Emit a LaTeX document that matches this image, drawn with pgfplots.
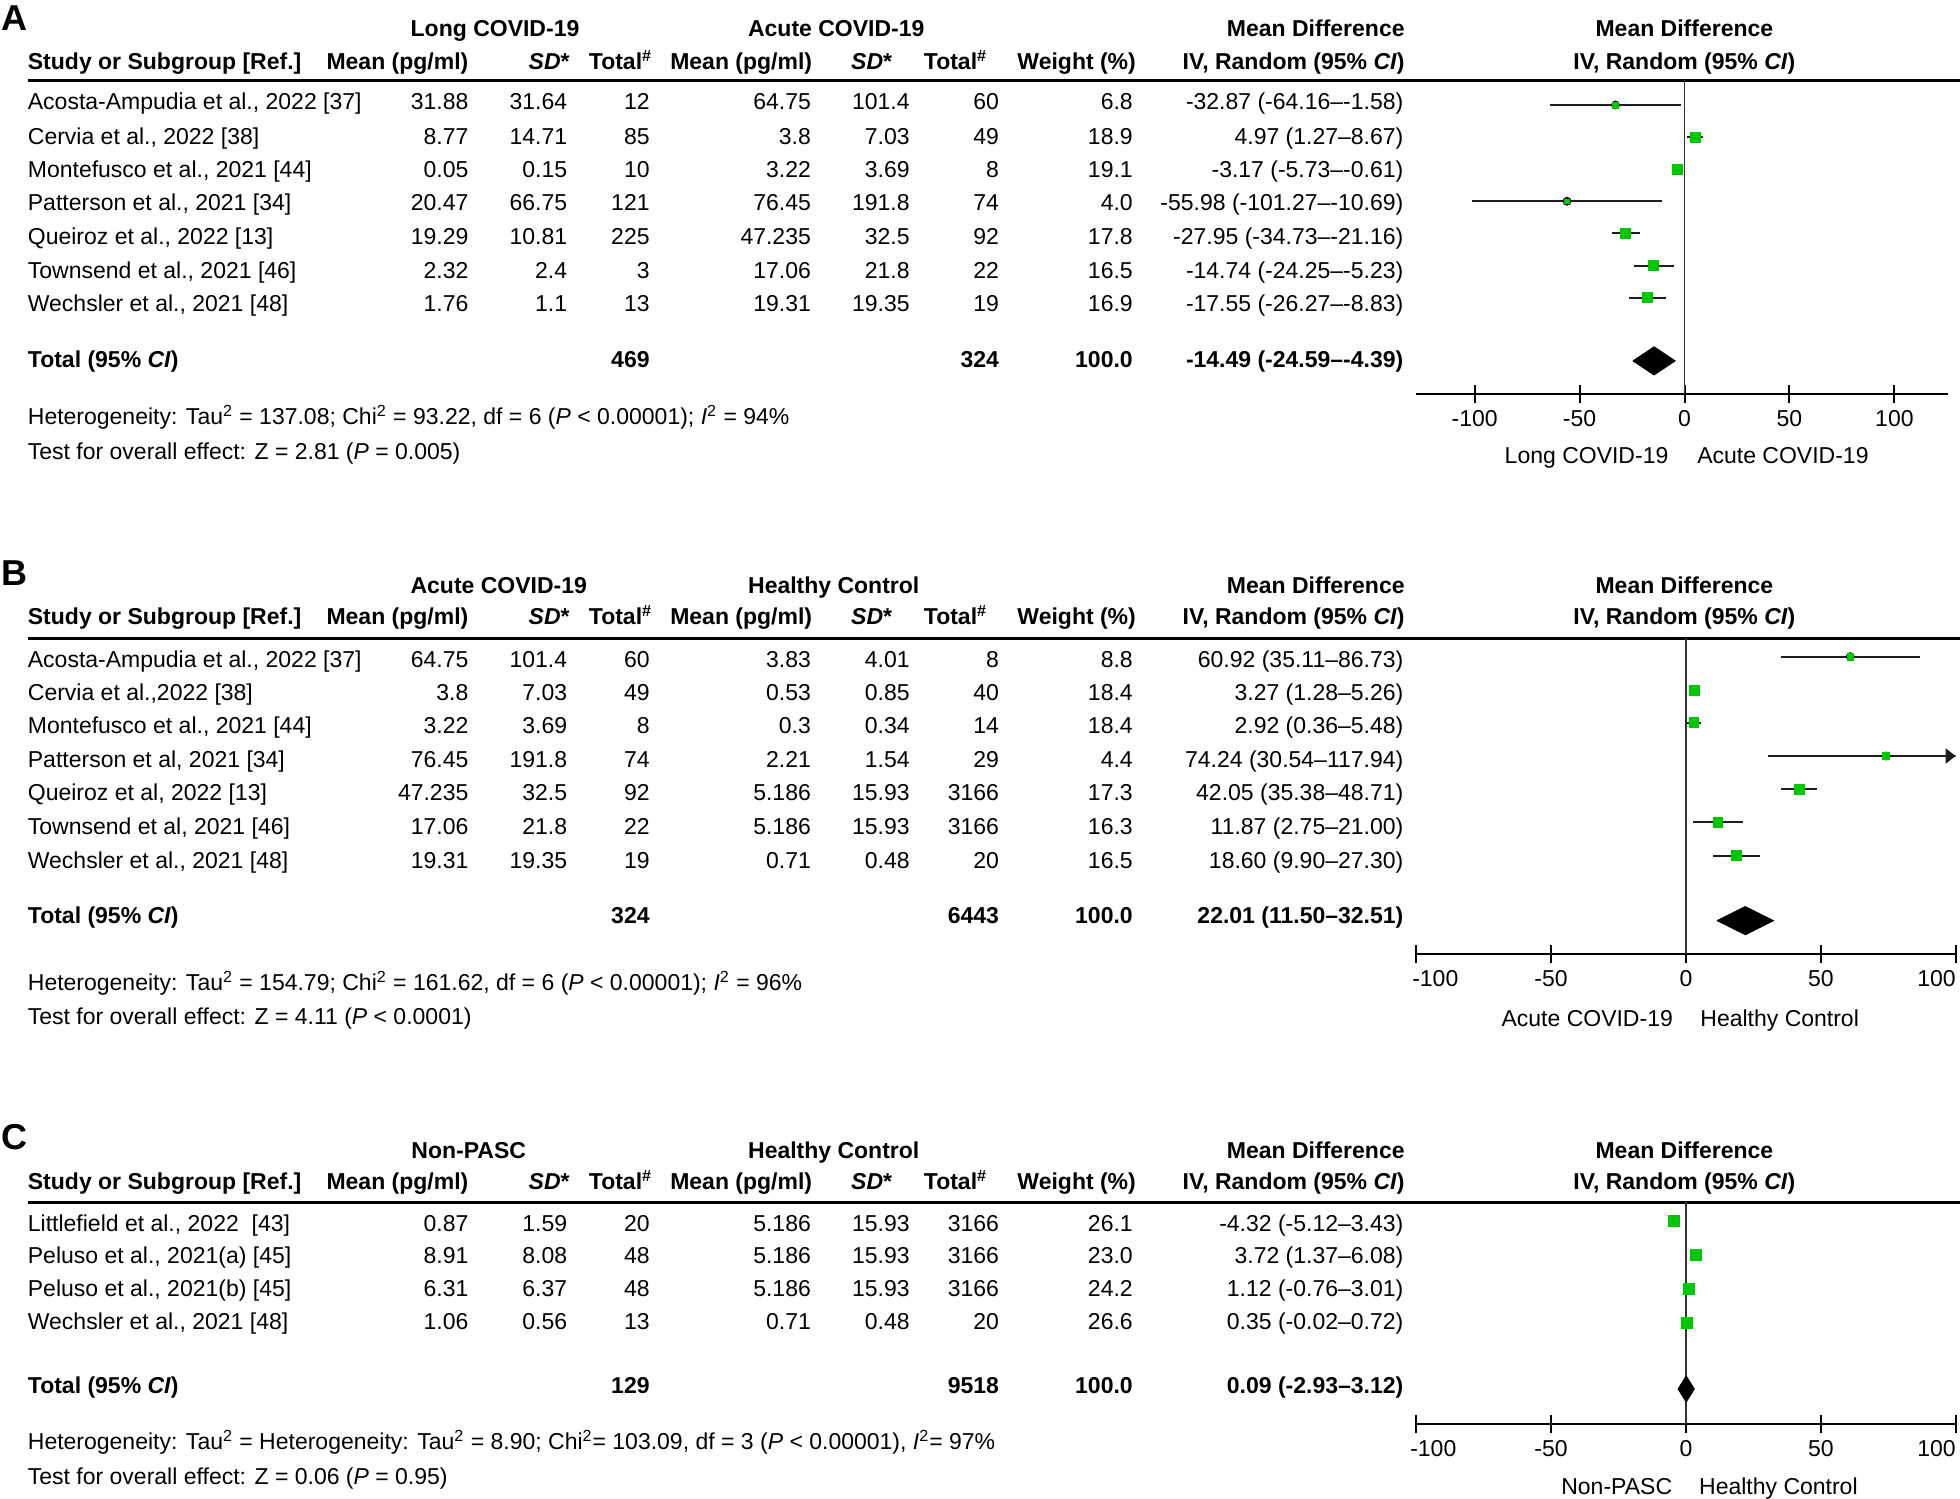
\documentclass[border=0pt]{standalone}
\usepackage{fontspec}
\setmainfont{Liberation Sans}
\usepackage{pgfplots}
\usepackage{pgfplotstable}
\pgfplotsset{compat=1.18}
\usetikzlibrary{arrows.meta}
\definecolor{mdgreen}{RGB}{0,200,0}
\definecolor{ciline}{RGB}{30,30,30}
\newcommand\fs{\fontsize{11.5}{13.8}\selectfont}

% ---------- data: md, lower CI, upper CI, row position, marker size ----------
\pgfplotstableread{
md lo hi y ms
-32.87 -64.16 -1.58 -84.0 1.55
4.97 1.27 8.67 -109.9 2.5
-3.17 -5.73 -0.61 -135.2 2.5
-55.98 -101.27 -10.69 -161.0 1.15
-27.95 -34.73 -21.16 -186.7 2.5
-14.74 -24.25 -5.23 -212.5 2.5
-17.55 -26.27 -8.83 -238.1 2.5
}\dataA
\pgfplotstableread{
x y
-24.59 -288.7
-14.49 -277.4
-4.39 -288.7
-14.49 -300.0
-24.59 -288.7
}\diamA
\pgfplotstableread{
md lo hi y ms
60.92 35.11 86.73 -525.3 1.65
3.27 1.28 5.26 -552.0 2.45
2.92 0.36 5.48 -578.1 2.45
74.24 30.54 117.94 -604.8 1.65
42.05 35.38 48.71 -631.5 2.5
11.87 2.75 21.00 -657.9 2.45
18.60 9.90 27.30 -684.5 2.45
}\dataB
\pgfplotstableread{
x y
11.50 -736.5
22.01 -725.2
32.51 -736.5
22.01 -747.8
11.50 -736.5
}\diamB
\pgfplotstableread{
md lo hi y ms
-4.32 -5.12 -3.43 -976.8 2.75
3.72 1.37 6.08 -1004.0 2.7
1.12 -0.76 3.01 -1031.2 2.7
0.35 -0.02 0.72 -1058.7 2.75
}\dataC
\pgfplotstableread{
x y
-2.93 -1111.2
0.09 -1100.7
3.12 -1111.2
0.09 -1121.7
-2.93 -1111.2
}\diamC

\pgfplotsset{forest/.style={
  scale only axis, anchor=south west,
  axis x line=bottom, axis y line=none,
  x axis line style={-, line width=1pt},
  xtick={-100,-50,0,50,100},
  major tick length=9pt, tick align=center,
  tick style={line width=1pt, black},
  xticklabel style={font=\fs},
  clip mode=individual,
}}
\pgfplotsset{
  ciplot/.style={only marks, mark=none, forget plot,
    error bars/.cd, x dir=both, x explicit, error mark=none,
    error bar style={draw=ciline, line width=0.95pt}},
  sqplot/.style={scatter, only marks, mark=square*, point meta=explicit,
    scatter/use mapped color={draw=mdgreen, fill=mdgreen},
    visualization depends on={\thisrow{ms}\as\msz},
    scatter/@pre marker code/.append style={/tikz/mark size=\msz pt}},
  zeroline/.style={line width=0.75pt, color=black!80, forget plot},
  diamond/.style={fill=black, draw=black, line width=0.4pt, forget plot},
}

\begin{document}
\begin{tikzpicture}
\useasboundingbox (0,0) rectangle (980pt,-749.375pt);

\begin{scope}[x=0.625pt, y=-0.625pt, every node/.style={inner sep=0pt, font=\fs}]
% ================= Panel A =================
\node[anchor=base west, font=\fontsize{18}{20}\selectfont\bfseries] at (1,24) {A};
\node[anchor=base] at (396,22.7+6.6) {\bfseries Long COVID-19};
\node[anchor=base] at (669,22.7+6.6) {\bfseries Acute COVID-19};
\node[anchor=base east] at (1124,22.7+6.6) {\bfseries Mean Difference};
\node[anchor=base] at (1347.5,22.7+6.6) {\bfseries Mean Difference};
\node[anchor=base west] at (22,49.3+6.6) {\bfseries Study or Subgroup [Ref.]};
\node[anchor=base east] at (375,49.3+6.6) {\bfseries Mean (pg/ml)};
\node[anchor=base east] at (456,49.3+6.6) {\bfseries\itshape SD\upshape*};
\node[anchor=base east] at (522,49.3+6.6) {\bfseries Total\textsuperscript{\#}};
\node[anchor=base east] at (650,49.3+6.6) {\bfseries Mean (pg/ml)};
\node[anchor=base east] at (714,49.3+6.6) {\bfseries\itshape SD\upshape*};
\node[anchor=base east] at (790,49.3+6.6) {\bfseries Total\textsuperscript{\#}};
\node[anchor=base east] at (909,49.3+6.6) {\bfseries Weight (\%)};
\node[anchor=base east] at (1124,49.3+6.6) {\bfseries IV, Random (95\% \textit{CI})};
\node[anchor=base] at (1347.5,49.3+6.6) {\bfseries IV, Random (95\% \textit{CI})};
\draw[line width=1.5pt] (22,64) -- (1568,64);
\foreach \yy/\nm/\ma/\sa/\ta/\mb/\sb/\tb/\wt/\md in {
 81.3/{Acosta-Ampudia et al., 2022 [37]}/31.88/31.64/12/64.75/101.4/60/6.8/{-32.87 (-64.16–\kern0pt-1.58)},
 108.8/{Cervia et al., 2022 [38]}/8.77/14.71/85/3.8/7.03/49/18.9/{4.97 (1.27–8.67)},
 135.5/{Montefusco et al., 2021 [44]}/0.05/0.15/10/3.22/3.69/8/19.1/{-3.17 (-5.73–\kern0pt-0.61)},
 162.1/{Patterson et al., 2021 [34]}/20.47/66.75/121/76.45/191.8/74/4.0/{-55.98 (-101.27–\kern0pt-10.69)},
 189.3/{Queiroz et al., 2022 [13]}/19.29/10.81/225/47.235/32.5/92/17.8/{-27.95 (-34.73–\kern0pt-21.16)},
 216.0/{Townsend et al., 2021 [46]}/2.32/2.4/3/17.06/21.8/22/16.5/{-14.74 (-24.25–\kern0pt-5.23)},
 242.7/{Wechsler et al., 2021 [48]}/1.76/1.1/13/19.31/19.35/19/16.9/{-17.55 (-26.27–\kern0pt-8.83)}}{
  \node[anchor=base west] at (22,\yy+6.6) {\nm};
  \node[anchor=base east] at (375,\yy+6.6) {\ma};
  \node[anchor=base east] at (454,\yy+6.6) {\sa};
  \node[anchor=base east] at (520,\yy+6.6) {\ta};
  \node[anchor=base east] at (649,\yy+6.6) {\mb};
  \node[anchor=base east] at (728,\yy+6.6) {\sb};
  \node[anchor=base east] at (799.5,\yy+6.6) {\tb};
  \node[anchor=base east] at (906.5,\yy+6.6) {\wt};
  \node[anchor=base east] at (1123,\yy+6.6) {\md};
}
\node[anchor=base west] at (22,287.5+6.6) {\bfseries Total (95\% \textit{CI})};
\node[anchor=base east] at (520,287.5+6.6) {\bfseries 469};
\node[anchor=base east] at (799.5,287.5+6.6) {\bfseries 324};
\node[anchor=base east] at (906.5,287.5+6.6) {\bfseries 100.0};
\node[anchor=base east] at (1123,287.5+6.6) {\bfseries -14.49 (-24.59–\kern0pt-4.39)};
\node[anchor=base west] at (22,333.3+6.6) {Heterogeneity: Tau\textsuperscript{2} = 137.08; Chi\textsuperscript{2} = 93.22, df = 6 (\textit{P} < 0.00001); \textit{I}\textsuperscript{2} = 94\%};
\node[anchor=base west] at (22,361.3+6.6) {Test for overall effect: Z = 2.81 (\textit{P} = 0.005)};
\node[anchor=base east] at (1335,364+6.6) {Long COVID-19};
\node[anchor=base west] at (1357.5,364+6.6) {Acute COVID-19};

% ================= Panel B =================
\node[anchor=base west, font=\fontsize{18}{20}\selectfont\bfseries] at (1,468) {B};
\node[anchor=base] at (399,468+6.6) {\bfseries Acute COVID-19};
\node[anchor=base] at (667,468+6.6) {\bfseries Healthy Control};
\node[anchor=base east] at (1124,468+6.6) {\bfseries Mean Difference};
\node[anchor=base] at (1347.5,468+6.6) {\bfseries Mean Difference};
\node[anchor=base west] at (22,493.3+6.6) {\bfseries Study or Subgroup [Ref.]};
\node[anchor=base east] at (375,493.3+6.6) {\bfseries Mean (pg/ml)};
\node[anchor=base east] at (456,493.3+6.6) {\bfseries\itshape SD\upshape*};
\node[anchor=base east] at (522,493.3+6.6) {\bfseries Total\textsuperscript{\#}};
\node[anchor=base east] at (650,493.3+6.6) {\bfseries Mean (pg/ml)};
\node[anchor=base east] at (714,493.3+6.6) {\bfseries\itshape SD\upshape*};
\node[anchor=base east] at (790,493.3+6.6) {\bfseries Total\textsuperscript{\#}};
\node[anchor=base east] at (909,493.3+6.6) {\bfseries Weight (\%)};
\node[anchor=base east] at (1124,493.3+6.6) {\bfseries IV, Random (95\% \textit{CI})};
\node[anchor=base] at (1347.5,493.3+6.6) {\bfseries IV, Random (95\% \textit{CI})};
\draw[line width=1.5pt] (22,510.5) -- (1568,510.5);
\foreach \yy/\nm/\ma/\sa/\ta/\mb/\sb/\tb/\wt/\md in {
 527.2/{Acosta-Ampudia et al., 2022 [37]}/64.75/101.4/60/3.83/4.01/8/8.8/{60.92 (35.11–86.73)},
 553.9/{Cervia et al.,2022 [38]}/3.8/7.03/49/0.53/0.85/40/18.4/{3.27 (1.28–5.26)},
 580.5/{Montefusco et al., 2021 [44]}/3.22/3.69/8/0.3/0.34/14/18.4/{2.92 (0.36–5.48)},
 607.2/{Patterson et al, 2021 [34]}/76.45/191.8/74/2.21/1.54/29/4.4/{74.24 (30.54–117.94)},
 633.9/{Queiroz et al, 2022 [13]}/47.235/32.5/92/5.186/15.93/3166/17.3/{42.05 (35.38–48.71)},
 661.3/{Townsend et al, 2021 [46]}/17.06/21.8/22/5.186/15.93/3166/16.3/{11.87 (2.75–21.00)},
 688.0/{Wechsler et al., 2021 [48]}/19.31/19.35/19/0.71/0.48/20/16.5/{18.60 (9.90–27.30)}}{
  \node[anchor=base west] at (22,\yy+6.6) {\nm};
  \node[anchor=base east] at (375,\yy+6.6) {\ma};
  \node[anchor=base east] at (454,\yy+6.6) {\sa};
  \node[anchor=base east] at (520,\yy+6.6) {\ta};
  \node[anchor=base east] at (649,\yy+6.6) {\mb};
  \node[anchor=base east] at (728,\yy+6.6) {\sb};
  \node[anchor=base east] at (799.5,\yy+6.6) {\tb};
  \node[anchor=base east] at (906.5,\yy+6.6) {\wt};
  \node[anchor=base east] at (1123,\yy+6.6) {\md};
}
\node[anchor=base west] at (22,732.5+6.6) {\bfseries Total (95\% \textit{CI})};
\node[anchor=base east] at (520,732.5+6.6) {\bfseries 324};
\node[anchor=base east] at (799.5,732.5+6.6) {\bfseries 6443};
\node[anchor=base east] at (906.5,732.5+6.6) {\bfseries 100.0};
\node[anchor=base east] at (1123,732.5+6.6) {\bfseries 22.01 (11.50–32.51)};
\node[anchor=base west] at (22,786+6.6) {Heterogeneity: Tau\textsuperscript{2} = 154.79; Chi\textsuperscript{2} = 161.62, df = 6 (\textit{P} < 0.00001); \textit{I}\textsuperscript{2} = 96\%};
\node[anchor=base west] at (22,813.3+6.6) {Test for overall effect: Z = 4.11 (\textit{P} < 0.0001)};
\node[anchor=base east] at (1338.6,814.7+6.6) {Acute COVID-19};
\node[anchor=base west] at (1360,814.7+6.6) {Healthy Control};

% ================= Panel C =================
\node[anchor=base west, font=\fontsize{18}{20}\selectfont\bfseries] at (1,919.5) {C};
\node[anchor=base] at (375,920+6.6) {\bfseries Non-PASC};
\node[anchor=base] at (667,920+6.6) {\bfseries Healthy Control};
\node[anchor=base east] at (1124,920+6.6) {\bfseries Mean Difference};
\node[anchor=base] at (1347.5,920+6.6) {\bfseries Mean Difference};
\node[anchor=base west] at (22,945.3+6.6) {\bfseries Study or Subgroup [Ref.]};
\node[anchor=base east] at (375,945.3+6.6) {\bfseries Mean (pg/ml)};
\node[anchor=base east] at (456,945.3+6.6) {\bfseries\itshape SD\upshape*};
\node[anchor=base east] at (522,945.3+6.6) {\bfseries Total\textsuperscript{\#}};
\node[anchor=base east] at (650,945.3+6.6) {\bfseries Mean (pg/ml)};
\node[anchor=base east] at (714,945.3+6.6) {\bfseries\itshape SD\upshape*};
\node[anchor=base east] at (790,945.3+6.6) {\bfseries Total\textsuperscript{\#}};
\node[anchor=base east] at (909,945.3+6.6) {\bfseries Weight (\%)};
\node[anchor=base east] at (1124,945.3+6.6) {\bfseries IV, Random (95\% \textit{CI})};
\node[anchor=base] at (1347.5,945.3+6.6) {\bfseries IV, Random (95\% \textit{CI})};
\draw[line width=1.5pt] (22,962) -- (1568,962);
\foreach \yy/\nm/\ma/\sa/\ta/\mb/\sb/\tb/\wt/\md in {
 978.5/{Littlefield et al., 2022\ \ [43]}/0.87/1.59/20/5.186/15.93/3166/26.1/{-4.32 (-5.12–3.43)},
 1004.3/{Peluso et al., 2021(a) [45]}/8.91/8.08/48/5.186/15.93/3166/23.0/{3.72 (1.37–6.08)},
 1030.5/{Peluso et al., 2021(b) [45]}/6.31/6.37/48/5.186/15.93/3166/24.2/{1.12 (-0.76–3.01)},
 1056.8/{Wechsler et al., 2021 [48]}/1.06/0.56/13/0.71/0.48/20/26.6/{0.35 (-0.02–0.72)}}{
  \node[anchor=base west] at (22,\yy+6.6) {\nm};
  \node[anchor=base east] at (375,\yy+6.6) {\ma};
  \node[anchor=base east] at (454,\yy+6.6) {\sa};
  \node[anchor=base east] at (520,\yy+6.6) {\ta};
  \node[anchor=base east] at (649,\yy+6.6) {\mb};
  \node[anchor=base east] at (728,\yy+6.6) {\sb};
  \node[anchor=base east] at (799.5,\yy+6.6) {\tb};
  \node[anchor=base east] at (906.5,\yy+6.6) {\wt};
  \node[anchor=base east] at (1123,\yy+6.6) {\md};
}
\node[anchor=base west] at (22,1108+6.6) {\bfseries Total (95\% \textit{CI})};
\node[anchor=base east] at (520,1108+6.6) {\bfseries 129};
\node[anchor=base east] at (799.5,1108+6.6) {\bfseries 9518};
\node[anchor=base east] at (906.5,1108+6.6) {\bfseries 100.0};
\node[anchor=base east] at (1123,1108+6.6) {\bfseries 0.09 (-2.93–3.12)};
\node[anchor=base west] at (22,1153.3+6.6) {Heterogeneity: Tau\textsuperscript{2} = Heterogeneity: Tau\textsuperscript{2} = 8.90; Chi\textsuperscript{2}= 103.09, df = 3 (\textit{P} < 0.00001), \textit{I}\textsuperscript{2}= 97\%};
\node[anchor=base west] at (22,1181.3+6.6) {Test for overall effect: Z = 0.06 (\textit{P} = 0.95)};
\node[anchor=base east] at (1338,1189.3+6.6) {Non-PASC};
\node[anchor=base west] at (1359,1189.3+6.6) {Healthy Control};
\end{scope}

% ================= Forest plot axes =================
\begin{axis}[forest, at={(708.125pt,-197.1875pt)}, width=265.625pt, height=157.1875pt,
  xmin=-127.8, xmax=125.3, ymin=-315.5, ymax=-64,
  xticklabels={-100,-50,0,50,100}]
\addplot[zeroline] coordinates {(0,-64) (0,-315.5)};
\addplot[ciplot] table[x=md, y=y, x error plus expr=\thisrow{hi}-\thisrow{md}, x error minus expr=\thisrow{md}-\thisrow{lo}] {\dataA};
\addplot[sqplot] table[x=md, y=y, meta=ms] {\dataA};
\addplot[diamond] table[x=x, y=y] {\diamA};
\end{axis}

\begin{axis}[forest, at={(708.125pt,-477.1875pt)}, width=269.6875pt, height=158.125pt,
  xmin=-100, xmax=100, ymin=-763.5, ymax=-510.5,
  xticklabels={\makebox[0pt][l]{\hspace{-2pt}-100},-50,0,50,\makebox[0pt][r]{100}}]
\addplot[zeroline] coordinates {(0,-510.5) (0,-763.5)};
\addplot[ciplot] table[x=md, y=y, x error plus expr=\thisrow{hi}-\thisrow{md}, x error minus expr=\thisrow{md}-\thisrow{lo}] {\dataB};
\addplot[sqplot] table[x=md, y=y, meta=ms] {\dataB};
\addplot[diamond] table[x=x, y=y] {\diamB};
\draw[line width=0.95pt, ciline, -{Triangle[length=5pt,width=7.5pt]}] (axis cs:96,-604.8) -- (axis cs:100,-604.8);
\end{axis}

\begin{axis}[forest, at={(708.125pt,-712.1875pt)}, width=269.6875pt, height=111pt,
  xmin=-100, xmax=100, ymin=-1139.5, ymax=-962,
  xticklabels={\makebox[0pt][l]{\hspace{-3pt}-100},-50,0,50,\makebox[0pt][r]{100}}]
\addplot[zeroline] coordinates {(0,-962) (0,-1139.5)};
\addplot[ciplot] table[x=md, y=y, x error plus expr=\thisrow{hi}-\thisrow{md}, x error minus expr=\thisrow{md}-\thisrow{lo}] {\dataC};
\addplot[sqplot] table[x=md, y=y, meta=ms] {\dataC};
\addplot[diamond] table[x=x, y=y] {\diamC};
\end{axis}
\end{tikzpicture}
\end{document}
